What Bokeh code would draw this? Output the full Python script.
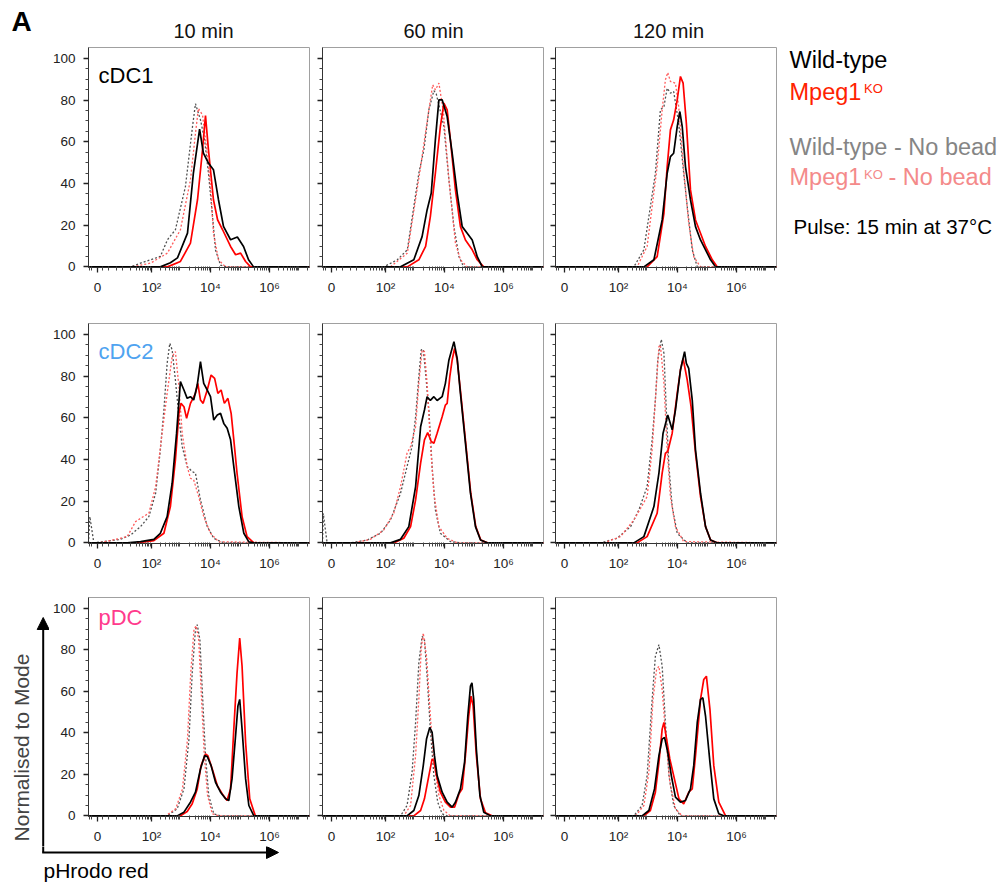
import math
from bokeh.plotting import figure
from bokeh.layouts import column, row
from bokeh.models import (Range1d, FixedTicker, CustomJSTickFormatter, Label, Arrow, NormalHead,
                          Spacer)
from bokeh.embed import file_html
from bokeh.resources import INLINE

FONT = "Liberation Sans"

# ---------------- categories / ticks ----------------
CELL_TYPES = ["cDC1", "cDC2", "pDC"]
CELL_COLORS = ["#000000", "#4fa3f0", "#ff3a8c"]
TIMES = ["10 min", "60 min", "120 min"]

# x axis is in display "decades" (biexponential-like pHrodo red scale)
X_TICKS = [0.169, 2, 4, 6]
X_TICK_LABELS = ["0", "10\u00b2", "10\u2074", "10\u2076"]
X_MINOR_LOW = [-0.09, -0.03, 0.33, 0.55, 0.8, 1.0, 1.3, 1.48, 1.6, 1.7, 1.78, 1.85, 1.9, 1.95]
X_MINOR_DECADES = [2, 3, 4, 5, 6]
X_MINOR_HIGH = [7.0, 7.3]
Y_TICKS = [0, 20, 40, 60, 80, 100]
Y_MINOR = [5, 10, 15, 25, 30, 35, 45, 50, 55, 65, 70, 75, 85, 90, 95]

# ---------------- data (x in decades, y = % of mode) ----------------
# cDC1, 10 min
CDC1_10_WT_X = [2.30, 2.64, 2.88, 3.22, 3.42, 3.63, 3.76, 3.93, 4.10, 4.27, 4.44, 4.68, 4.91, 5.12, 5.29, 5.46]
CDC1_10_WT_Y = [0, 2, 4.3, 16.2, 45, 66.1, 54.6, 49.8, 46.6, 32.2, 19.4, 13, 14.3, 9.8, 3.4, 0]
CDC1_10_KO_X = [2.54, 2.98, 3.32, 3.56, 3.73, 3.83, 3.93, 4.10, 4.24, 4.41, 4.68, 4.85, 5.02, 5.19, 5.36]
CDC1_10_KO_Y = [0, 2.6, 11.4, 32.2, 56.2, 72.5, 56.2, 32.2, 22.6, 17.8, 9.8, 5.8, 6.6, 2.6, 0]
CDC1_10_WTNB_X = [1.29, 1.63, 2.30, 2.54, 2.81, 3.15, 3.39, 3.49, 3.66, 3.80, 3.93, 4.07, 4.17, 4.34, 4.58]
CDC1_10_WTNB_Y = [0, 1.8, 5.0, 13, 17.8, 38.5, 67.3, 78.2, 70.5, 60.9, 45, 24.1, 8.1, 0.8, 0]
CDC1_10_KONB_X = [1.35, 1.97, 2.54, 2.98, 3.32, 3.49, 3.59, 3.73, 3.86, 4.00, 4.10, 4.27, 4.51]
CDC1_10_KONB_Y = [0, 1.8, 6.6, 17.8, 41.7, 64, 76, 72.8, 57.7, 38.5, 16.2, 3.4, 0]
# cDC1, 60 min
CDC1_60_WT_X = [2.51, 2.96, 3.24, 3.41, 3.55, 3.69, 3.81, 3.92, 4.09, 4.26, 4.43, 4.60, 4.77, 4.94, 5.11, 5.28]
CDC1_60_WT_Y = [0, 3.4, 14.5, 27.3, 35.3, 60.9, 80.1, 80.1, 72.1, 54.5, 35.3, 19.3, 16.1, 12.9, 4.9, 0]
CDC1_60_KO_X = [2.74, 3.13, 3.36, 3.52, 3.69, 3.86, 3.98, 4.09, 4.20, 4.37, 4.54, 4.71, 4.94, 5.11, 5.33]
CDC1_60_KO_Y = [0, 3.4, 9.8, 24.1, 44.9, 67.3, 78.5, 75.3, 60.9, 36.9, 19.3, 12.9, 8.2, 3.4, 0]
CDC1_60_WTNB_X = [1.94, 2.40, 2.74, 3.13, 3.30, 3.47, 3.64, 3.72, 3.98, 4.15, 4.32, 4.49, 4.65]
CDC1_60_WTNB_Y = [0, 3.4, 8.2, 44.9, 56.1, 75.3, 84.5, 83, 67.3, 41.7, 19.3, 4.9, 0]
CDC1_60_KONB_X = [2.17, 2.74, 3.19, 3.47, 3.60, 3.69, 3.81, 3.96, 4.15, 4.37, 4.54, 4.77]
CDC1_60_KONB_Y = [0, 6.6, 48.1, 75.3, 87.3, 84.9, 88.1, 74.5, 41.7, 11.4, 3.4, 0]
# cDC1, 120 min
CDC1_120_WT_X = [2.86, 3.20, 3.48, 3.65, 3.76, 3.87, 3.99, 4.08, 4.16, 4.27, 4.44, 4.61, 4.78, 4.95, 5.12, 5.29]
CDC1_120_WT_Y = [0, 3.4, 22.5, 44.9, 52.9, 54.5, 67.3, 74.5, 67.3, 48.1, 32.1, 19.3, 12.9, 8.2, 3.4, 0]
CDC1_120_KO_X = [2.97, 3.31, 3.54, 3.65, 3.76, 3.87, 3.99, 4.10, 4.19, 4.30, 4.44, 4.61, 4.78, 4.95, 5.18, 5.35]
CDC1_120_KO_Y = [0, 4.9, 25.7, 48.1, 65.7, 70.5, 80.1, 91.3, 88.1, 68.9, 36.9, 22.5, 16.1, 9.8, 3.4, 0]
CDC1_120_WTNB_X = [2.52, 2.86, 3.25, 3.42, 3.54, 3.65, 3.76, 3.87, 4.04, 4.21, 4.33, 4.50, 4.67]
CDC1_120_WTNB_Y = [0, 8.2, 44.9, 75.3, 76.9, 85.7, 83.3, 84.1, 68.9, 44.9, 28.9, 8.2, 0]
CDC1_120_KONB_X = [2.63, 2.97, 3.31, 3.48, 3.59, 3.67, 3.76, 3.93, 4.04, 4.21, 4.38, 4.55, 4.78]
CDC1_120_KONB_Y = [0, 9.8, 48.1, 75.3, 89.7, 93.2, 88.9, 88.1, 76.9, 46.5, 20.9, 4.9, 0]
# cDC2, 10 min
CDC2_10_WT_X = [1.175, 1.63, 2.08, 2.30, 2.53, 2.70, 2.85, 2.98, 3.10, 3.21, 3.32, 3.43, 3.55, 3.66, 3.77, 3.89,
                4.00, 4.11, 4.23, 4.34, 4.45, 4.565, 4.68, 4.79, 4.96, 5.13, 5.30, 5.47]
CDC2_10_WT_Y = [0, 0.6, 1.7, 4.6, 12.6, 28.6, 52.6, 77.3, 73.3, 69.3, 70.1, 68.5, 75.7, 86.9, 76.5, 73.3,
                70.1, 58.9, 61.3, 62.1, 57.3, 55, 49.4, 36.6, 17.4, 4.6, 0.5, 0]
CDC2_10_KO_X = [1.51, 2.08, 2.42, 2.64, 2.81, 2.93, 3.00, 3.10, 3.19, 3.32, 3.49, 3.57, 3.66, 3.75, 3.89, 4.02,
                4.14, 4.25, 4.36, 4.47, 4.59, 4.70, 4.79, 4.90, 5.07, 5.24, 5.47]
CDC2_10_KO_Y = [0, 1.1, 4.6, 17.4, 39.8, 62.1, 66.9, 65.3, 59.7, 66.9, 71.7, 76.5, 68.5, 66.9, 73.3, 80.5,
                78.9, 71.7, 73.3, 66.9, 69.3, 62.1, 49.4, 33.4, 12.6, 3.0, 0]
CDC2_10_WTNB_X = [-0.09, 0.045, 0.95, 1.29, 1.63, 1.91, 2.14, 2.30, 2.42, 2.53, 2.62, 2.70, 2.81, 2.93, 3.04,
                  3.21, 3.38, 3.49, 3.66, 3.89, 4.11, 4.45]
CDC2_10_WTNB_Y = [12.6, 0, 1.7, 3.8, 7.8, 12.6, 23.8, 44.6, 63.7, 86.1, 95.7, 92.5, 78.1, 60.5, 46.2,
                  36.6, 34.2, 33.4, 20.6, 7.8, 2.2, 0]
CDC2_10_KONB_X = [0.2, 0.61, 1.175, 1.46, 1.63, 1.91, 2.14, 2.36, 2.53, 2.70, 2.81, 2.93, 3.04, 3.21, 3.32,
                  3.43, 3.60, 3.77, 4.00, 4.28]
CDC2_10_KONB_Y = [0, 1.1, 3.0, 10.2, 11.8, 14.2, 27, 52.6, 71.7, 89.3, 91.7, 74.9, 52.6, 36.6, 31,
                  30.2, 22.2, 12.6, 4.6, 0.5]
# cDC2, 60 min
CDC2_60_WT_X = [2.17, 2.51, 2.79, 3.02, 3.19, 3.32, 3.41, 3.52, 3.64, 3.75, 3.92, 4.03, 4.15, 4.32, 4.43, 4.54,
                4.71, 4.88, 5.05, 5.22, 5.45]
CDC2_60_WT_Y = [0, 1.7, 7.8, 27, 55.7, 63.7, 70.1, 68.3, 70.1, 68.3, 70.1, 76.5, 87.7, 96.5, 88.5, 71.7,
                47.8, 23.8, 7.8, 1.4, 0]
CDC2_60_KO_X = [2.28, 2.62, 2.85, 3.02, 3.19, 3.32, 3.43, 3.55, 3.64, 3.75, 3.92, 4.03, 4.09, 4.18, 4.26, 4.34,
                4.43, 4.55, 4.72, 4.89, 5.06, 5.23, 5.46]
CDC2_60_KO_Y = [0, 2.2, 7.8, 20.6, 38.2, 49.4, 52.9, 48.6, 47.8, 52.6, 60.5, 66.1, 66.9, 79.7, 87.7, 93.3,
                87.7, 71.7, 47.8, 23.8, 7.8, 1.4, 0]
CDC2_60_WTNB_X = [-0.11, 0.02, 0.81, 1.38, 1.83, 2.17, 2.51, 2.73, 2.90, 3.02, 3.13, 3.21, 3.28, 3.36, 3.47,
                  3.58, 3.69, 3.86, 4.20, 4.54]
CDC2_60_WTNB_Y = [14.2, 0, 0, 1.4, 4.6, 11, 23.8, 36.6, 46.2, 60.5, 79.7, 92.5, 92.8, 81.3, 63.7,
                  36.6, 15.8, 4.6, 0.6, 0]
CDC2_60_KONB_X = [0.93, 1.49, 1.94, 2.28, 2.51, 2.73, 2.85, 3.02, 3.13, 3.24, 3.32, 3.41, 3.52, 3.64, 3.81,
                  4.09, 4.43]
CDC2_60_KONB_Y = [0, 1.7, 6.2, 14.2, 27, 43, 46.2, 55.7, 76.5, 92.5, 91.7, 76.5, 47.8, 23.8, 7.8,
                  2.2, 0]
# cDC2, 120 min
CDC2_120_WT_X = [2.52, 2.86, 3.20, 3.37, 3.51, 3.67, 3.82, 3.93, 4.10, 4.24, 4.30, 4.38, 4.50, 4.61, 4.78,
                 4.95, 5.12, 5.34]
CDC2_120_WT_Y = [0, 3.0, 17.4, 33.4, 52.6, 61.3, 54.2, 63.7, 82.9, 91.7, 86.1, 83.7, 68.5, 44.6, 23.8,
                 7.8, 1.4, 0]
CDC2_120_KO_X = [2.63, 2.97, 3.31, 3.48, 3.59, 3.67, 3.82, 3.99, 4.10, 4.19, 4.33, 4.46, 4.61, 4.78, 4.95,
                 5.12, 5.34]
CDC2_120_KO_Y = [0, 3.0, 14.2, 33.4, 43, 43.8, 52.6, 71.7, 82.9, 88.5, 78.1, 65.3, 43, 22.2, 7.8,
                 1.4, 0]
CDC2_120_WTNB_X = [1.39, 1.95, 2.41, 2.69, 2.97, 3.14, 3.25, 3.33, 3.45, 3.54, 3.63, 3.71, 3.82, 3.99, 4.33]
CDC2_120_WTNB_Y = [0, 2.2, 7.8, 15.8, 27, 49.4, 68.5, 87.7, 97.6, 90.9, 60.5, 36.6, 17.4, 4.6, 0]
CDC2_120_KONB_X = [1.50, 2.07, 2.52, 2.75, 2.97, 3.14, 3.25, 3.37, 3.42, 3.54, 3.65, 3.76, 3.93, 4.21]
CDC2_120_KONB_Y = [0, 3.0, 11, 16.6, 22.2, 44.6, 68.5, 94.1, 94.9, 76.5, 44.6, 22.2, 7.8, 0.6]
# pDC, 10 min
PDC_10_WT_X = [2.87, 3.10, 3.32, 3.49, 3.66, 3.80, 3.89, 4.02, 4.17, 4.34, 4.51, 4.62, 4.73, 4.85, 4.93, 4.99,
               5.07, 5.19, 5.30, 5.47]
PDC_10_WT_Y = [0, 1.8, 6.6, 11.4, 22.6, 29, 28.6, 24.2, 16.2, 11.4, 8.2, 7.4, 17.8, 38.6, 53, 56.1,
               41.8, 17.8, 5.0, 0]
PDC_10_KO_X = [2.98, 3.21, 3.38, 3.55, 3.68, 3.83, 3.91, 4.06, 4.23, 4.40, 4.56, 4.68, 4.79, 4.90, 4.99,
               5.07, 5.19, 5.33, 5.52]
PDC_10_KO_Y = [0, 2.1, 5.8, 13, 24.2, 29.8, 29, 22.6, 14.6, 10.6, 7.4, 13, 41.8, 68.9, 85.7,
               72.1, 35.3, 8.2, 0]
PDC_10_WTNB_X = [2.53, 2.87, 3.10, 3.27, 3.38, 3.49, 3.55, 3.64, 3.72, 3.83, 3.94, 4.11, 4.34]
PDC_10_WTNB_Y = [0, 3.4, 13, 37, 68.9, 89.7, 92.1, 84.9, 60.9, 29, 9.8, 1, 0]
PDC_10_KONB_X = [2.48, 2.82, 3.05, 3.22, 3.33, 3.44, 3.51, 3.60, 3.68, 3.79, 3.90, 4.06, 4.29]
PDC_10_KONB_Y = [0, 3.4, 13, 37, 68.9, 89.7, 91.6, 84.9, 60.9, 29, 9.8, 1, 0]
# pDC, 60 min
PDC_60_WT_X = [2.73, 2.96, 3.13, 3.28, 3.39, 3.50, 3.58, 3.66, 3.75, 3.92, 4.09, 4.26, 4.37, 4.54, 4.68, 4.79,
               4.88, 4.93, 4.99, 5.08, 5.20, 5.33, 5.56]
PDC_60_WT_Y = [0, 2.6, 9.8, 24.2, 37, 42.6, 40.2, 29, 19.4, 11.4, 6.6, 4.2, 6.6, 13, 25.8, 48.1,
               62.5, 64.1, 56.1, 32.2, 9.8, 1.8, 0]
PDC_60_KO_X = [2.96, 3.19, 3.32, 3.47, 3.58, 3.64, 3.73, 3.86, 4.03, 4.20, 4.34, 4.49, 4.60, 4.71, 4.82, 4.90,
               4.97, 5.08, 5.22, 5.39, 5.61]
PDC_60_KO_Y = [0, 2.6, 8.2, 19.4, 27.4, 26.6, 19.4, 11.4, 6.6, 4.2, 4.2, 10.6, 13, 29, 48.1, 57.7,
               53, 29, 8.2, 1.5, 0]
PDC_60_WTNB_X = [2.51, 2.73, 2.90, 3.02, 3.13, 3.24, 3.32, 3.41, 3.52, 3.64, 3.77, 3.92, 4.09]
PDC_60_WTNB_Y = [0, 5.0, 21, 45, 73.7, 86.5, 84.9, 67.3, 41.8, 19.4, 6.6, 1, 0]
PDC_60_KONB_X = [2.62, 2.85, 3.02, 3.13, 3.21, 3.28, 3.39, 3.52, 3.64, 3.81, 3.98, 4.20]
PDC_60_KONB_Y = [0, 5.0, 29, 56.1, 80.1, 88.1, 76.9, 48.1, 25.8, 9.8, 2.6, 0]
# pDC, 120 min
PDC_120_WT_X = [2.80, 3.03, 3.22, 3.37, 3.48, 3.56, 3.67, 3.79, 3.93, 4.10, 4.27, 4.44, 4.55, 4.67, 4.78, 4.86,
                4.95, 5.10, 5.23, 5.40, 5.57]
PDC_120_WT_Y = [0, 2.6, 13, 29, 37, 37.8, 30.6, 19.4, 9, 6.6, 7.4, 13, 24.2, 45, 56.1, 56.9,
                48.1, 25.8, 8.2, 1, 0]
PDC_120_KO_X = [2.86, 3.08, 3.25, 3.37, 3.48, 3.54, 3.63, 3.74, 3.87, 4.05, 4.21, 4.38, 4.50, 4.61, 4.78, 4.89,
                4.98, 5.10, 5.23, 5.40, 5.63]
PDC_120_KO_Y = [0, 2.6, 11.4, 25.8, 41.8, 45, 37, 27.4, 19.4, 8.2, 5.8, 11.4, 13, 29, 56.1, 65.7,
                67.3, 51.3, 24.2, 6.6, 0]
PDC_120_WTNB_X = [2.52, 2.80, 2.97, 3.14, 3.25, 3.37, 3.48, 3.59, 3.71, 3.87, 4.10]
PDC_120_WTNB_Y = [0, 5.0, 19.4, 56.1, 76.9, 82.5, 72.1, 45, 19.4, 5.0, 0]
PDC_120_KONB_X = [2.58, 2.86, 3.03, 3.17, 3.29, 3.37, 3.48, 3.59, 3.74, 3.93, 4.16]
PDC_120_KONB_Y = [0, 5.0, 21, 56.1, 70.5, 72.1, 60.9, 40.2, 16.2, 3.4, 0]

PANELS = {
    ("cDC1", "10 min"): [(CDC1_10_WTNB_X, CDC1_10_WTNB_Y), (CDC1_10_KONB_X, CDC1_10_KONB_Y),
                         (CDC1_10_KO_X, CDC1_10_KO_Y), (CDC1_10_WT_X, CDC1_10_WT_Y)],
    ("cDC1", "60 min"): [(CDC1_60_WTNB_X, CDC1_60_WTNB_Y), (CDC1_60_KONB_X, CDC1_60_KONB_Y),
                         (CDC1_60_KO_X, CDC1_60_KO_Y), (CDC1_60_WT_X, CDC1_60_WT_Y)],
    ("cDC1", "120 min"): [(CDC1_120_WTNB_X, CDC1_120_WTNB_Y), (CDC1_120_KONB_X, CDC1_120_KONB_Y),
                          (CDC1_120_KO_X, CDC1_120_KO_Y), (CDC1_120_WT_X, CDC1_120_WT_Y)],
    ("cDC2", "10 min"): [(CDC2_10_WTNB_X, CDC2_10_WTNB_Y), (CDC2_10_KONB_X, CDC2_10_KONB_Y),
                         (CDC2_10_KO_X, CDC2_10_KO_Y), (CDC2_10_WT_X, CDC2_10_WT_Y)],
    ("cDC2", "60 min"): [(CDC2_60_WTNB_X, CDC2_60_WTNB_Y), (CDC2_60_KONB_X, CDC2_60_KONB_Y),
                         (CDC2_60_KO_X, CDC2_60_KO_Y), (CDC2_60_WT_X, CDC2_60_WT_Y)],
    ("cDC2", "120 min"): [(CDC2_120_WTNB_X, CDC2_120_WTNB_Y), (CDC2_120_KONB_X, CDC2_120_KONB_Y),
                          (CDC2_120_KO_X, CDC2_120_KO_Y), (CDC2_120_WT_X, CDC2_120_WT_Y)],
    ("pDC", "10 min"): [(PDC_10_WTNB_X, PDC_10_WTNB_Y), (PDC_10_KONB_X, PDC_10_KONB_Y),
                        (PDC_10_KO_X, PDC_10_KO_Y), (PDC_10_WT_X, PDC_10_WT_Y)],
    ("pDC", "60 min"): [(PDC_60_WTNB_X, PDC_60_WTNB_Y), (PDC_60_KONB_X, PDC_60_KONB_Y),
                        (PDC_60_KO_X, PDC_60_KO_Y), (PDC_60_WT_X, PDC_60_WT_Y)],
    ("pDC", "120 min"): [(PDC_120_WTNB_X, PDC_120_WTNB_Y), (PDC_120_KONB_X, PDC_120_KONB_Y),
                         (PDC_120_KO_X, PDC_120_KO_Y), (PDC_120_WT_X, PDC_120_WT_Y)],
}

# style per series (order: WT no bead, KO no bead, KO, WT)
STYLES = [
    dict(line_color="#505050", line_width=1.3, line_dash="2 2"),
    dict(line_color="#ff5c5c", line_width=1.3, line_dash="2 2"),
    dict(line_color="#ff0000", line_width=1.7),
    dict(line_color="#000000", line_width=1.7),
]

# ---------------- layout geometry (pixels) ----------------
X_START, X_END = -0.136, 7.356
Y_START, Y_END = -0.3, 105.2
FRAME_W, FRAME_H = 221, 220
LEFT_W = 49          # strip with the vertical axis arrow
LEGEND_W = 222       # strip with the legend text
HEADER_H = 42
FOOTER_H = 37
COL_BORDERS = [(39, 6), (7, 5), (7, 5)]
ROW_BORDERS = [(5, 36), (20, 34), (20, 29)]
ROW_H = [bt + FRAME_H + bb for bt, bb in ROW_BORDERS]

x_minor = list(X_MINOR_LOW)
for d in X_MINOR_DECADES:
    for k in range(2, 10):
        x_minor.append(d + math.log10(k))
x_minor += [5.0] + X_MINOR_HIGH
x_minor = [v for v in x_minor if v not in X_TICKS]


def canvas(width, height, x0, y0, top=0, bottom=0):
    """A plain drawing area whose data coordinates are page pixels (y down)."""
    p = figure(width=width, height=height, x_range=Range1d(x0, x0 + width),
               y_range=Range1d(y0 + height - bottom, y0 + top), min_border=0, min_border_left=0,
               min_border_right=0, min_border_top=top, min_border_bottom=bottom,
               x_axis_location=None, y_axis_location=None,
               output_backend="svg", toolbar_location=None, title=None)
    p.grid.visible = False
    p.outline_line_color = None
    p.background_fill_color = "white"
    p.border_fill_color = "white"
    try:
        p.frame_align = False
    except Exception:
        pass
    return p


def add_text(p, x, y, text, color="#000000", size=20.0, align="left", style="normal", angle=0.0):
    """y is the text baseline (page pixels); drawn with a centred baseline."""
    p.add_layout(Label(x=x, y=y - 0.3465 * size, text=text, text_color=color, text_font=FONT,
                       text_font_size=f"{size}px", text_align=align, text_font_style=style,
                       text_baseline="middle", angle=angle))


def make_panel(r, c):
    bl, br = COL_BORDERS[c]
    bt, bb = ROW_BORDERS[r]
    p = figure(width=bl + FRAME_W + br, height=bt + FRAME_H + bb,
               x_range=Range1d(X_START, X_END), y_range=Range1d(Y_START, Y_END),
               min_border_left=bl, min_border_right=br, min_border_top=bt, min_border_bottom=bb,
               output_backend="svg", toolbar_location=None, title=None)
    p.grid.visible = False
    p.outline_line_color = "#a0a0a0"
    p.outline_line_width = 1
    p.background_fill_color = "white"
    p.border_fill_color = "white"

    xa = p.xaxis[0]
    xa.ticker = FixedTicker(ticks=X_TICKS, minor_ticks=x_minor)
    xa.formatter = CustomJSTickFormatter(args=dict(tp=X_TICKS, tl=X_TICK_LABELS), code="""
        for (let i = 0; i < tp.length; i++) { if (Math.abs(tp[i] - tick) < 1e-6) return tl[i]; }
        return '';""")
    ya = p.yaxis[0]
    ya.ticker = FixedTicker(ticks=Y_TICKS, minor_ticks=Y_MINOR)
    for ax in (xa, ya):
        ax.axis_line_color = "#333333"
        ax.axis_line_width = 1
        ax.major_tick_line_color = "#222222"
        ax.major_tick_line_width = 1.3
        ax.minor_tick_line_color = "#444444"
        ax.major_tick_out = 5
        ax.major_tick_in = 0
        ax.major_label_text_font = FONT
        ax.major_label_text_font_size = "13.5px"
        ax.major_label_text_color = "#222222"
    xa.minor_tick_in = 1
    xa.minor_tick_out = 3
    ya.minor_tick_in = 0
    ya.minor_tick_out = 3
    xa.major_label_standoff = 7
    if c == 0:
        ya.major_label_standoff = 8
    else:
        ya.formatter = CustomJSTickFormatter(code="return '';")
        ya.major_label_standoff = 0

    for (xs, ys), st in zip(PANELS[(CELL_TYPES[r], TIMES[c])], STYLES):
        p.line([X_START] + list(xs) + [X_END], [0] + list(ys) + [0], **st)

    if c == 0:
        base = [184, 184.5, 191][r]
        p.add_layout(Label(x=10, y=base + 0.3465 * 22, x_units="screen", y_units="screen",
                           text=CELL_TYPES[r], text_color=CELL_COLORS[r], text_font=FONT,
                           text_font_size="22px", text_baseline="middle"))
    return p


panels = [[make_panel(r, c) for c in range(3)] for r in range(3)]

# ---- header: panel letter and time-point titles ----
header = canvas(1003, HEADER_H, 0, 0)
add_text(header, 11, 31, "A", size=28, style="bold")
for t, cx in zip(TIMES, [203, 433, 668]):
    add_text(header, cx, 37, t, color="#111111", size=20, align="center")

# ---- legend strip (right of the first row, frame aligned with the row's frames) ----
legend = canvas(LEGEND_W, ROW_H[0], 1003 - LEGEND_W, HEADER_H,
                top=ROW_BORDERS[0][0], bottom=ROW_BORDERS[0][1])
add_text(legend, 789, 67.7, "Wild-type", "#000000", 23.5)
add_text(legend, 789, 99.3, "Mpeg1", "#ff2200", 23.5)
add_text(legend, 863.5, 92.8, "KO", "#ff2200", 13)
add_text(legend, 789, 155, "Wild-type - No bead", "#858585", 23.5)
add_text(legend, 789, 185, "Mpeg1", "#f48a8a", 23.5)
add_text(legend, 863.5, 179, "KO", "#f48a8a", 13)
add_text(legend, 888, 185, "- No bead", "#f48a8a", 23.5)
add_text(legend, 793, 233.3, "Pulse: 15 min at 37\u00b0C", "#000000", 20.5)

# ---- vertical axis arrow strip (left of the last row) ----
row3_top = HEADER_H + ROW_H[0] + ROW_H[1]
vstrip = canvas(LEFT_W, ROW_H[2], 0, row3_top)
vstrip.add_layout(Arrow(x_start=42.7, y_start=row3_top + ROW_H[2] + 1, x_end=42.7, y_end=617,
                        line_width=2, line_color="black",
                        end=NormalHead(size=12, fill_color="black", line_color="black")))
vstrip.add_layout(Label(x=21, y=747, text="Normalised to Mode", text_font=FONT,
                        text_font_size="21px", text_align="center", text_baseline="middle",
                        angle=math.pi / 2))

# ---- footer: horizontal axis arrow and label ----
foot_top = row3_top + ROW_H[2]
footer = canvas(1003, FOOTER_H, 0, foot_top)
footer.segment(x0=[42.7], y0=[foot_top - 1], x1=[42.7], y1=[852], line_width=2, line_color="black")
footer.add_layout(Arrow(x_start=41.7, y_start=852, x_end=278, y_end=852,
                        line_width=2, line_color="black",
                        end=NormalHead(size=12, fill_color="black", line_color="black")))
add_text(footer, 43, 877, "pHrodo red", size=21)

leftcol = column(Spacer(width=LEFT_W, height=ROW_H[0] + ROW_H[1]), vstrip)
maincol = column(row(*panels[0], legend), row(*panels[1]), row(*panels[2]))
layout = column(header, row(leftcol, maincol), footer)
open("out.html", "w").write(file_html(layout, INLINE))
